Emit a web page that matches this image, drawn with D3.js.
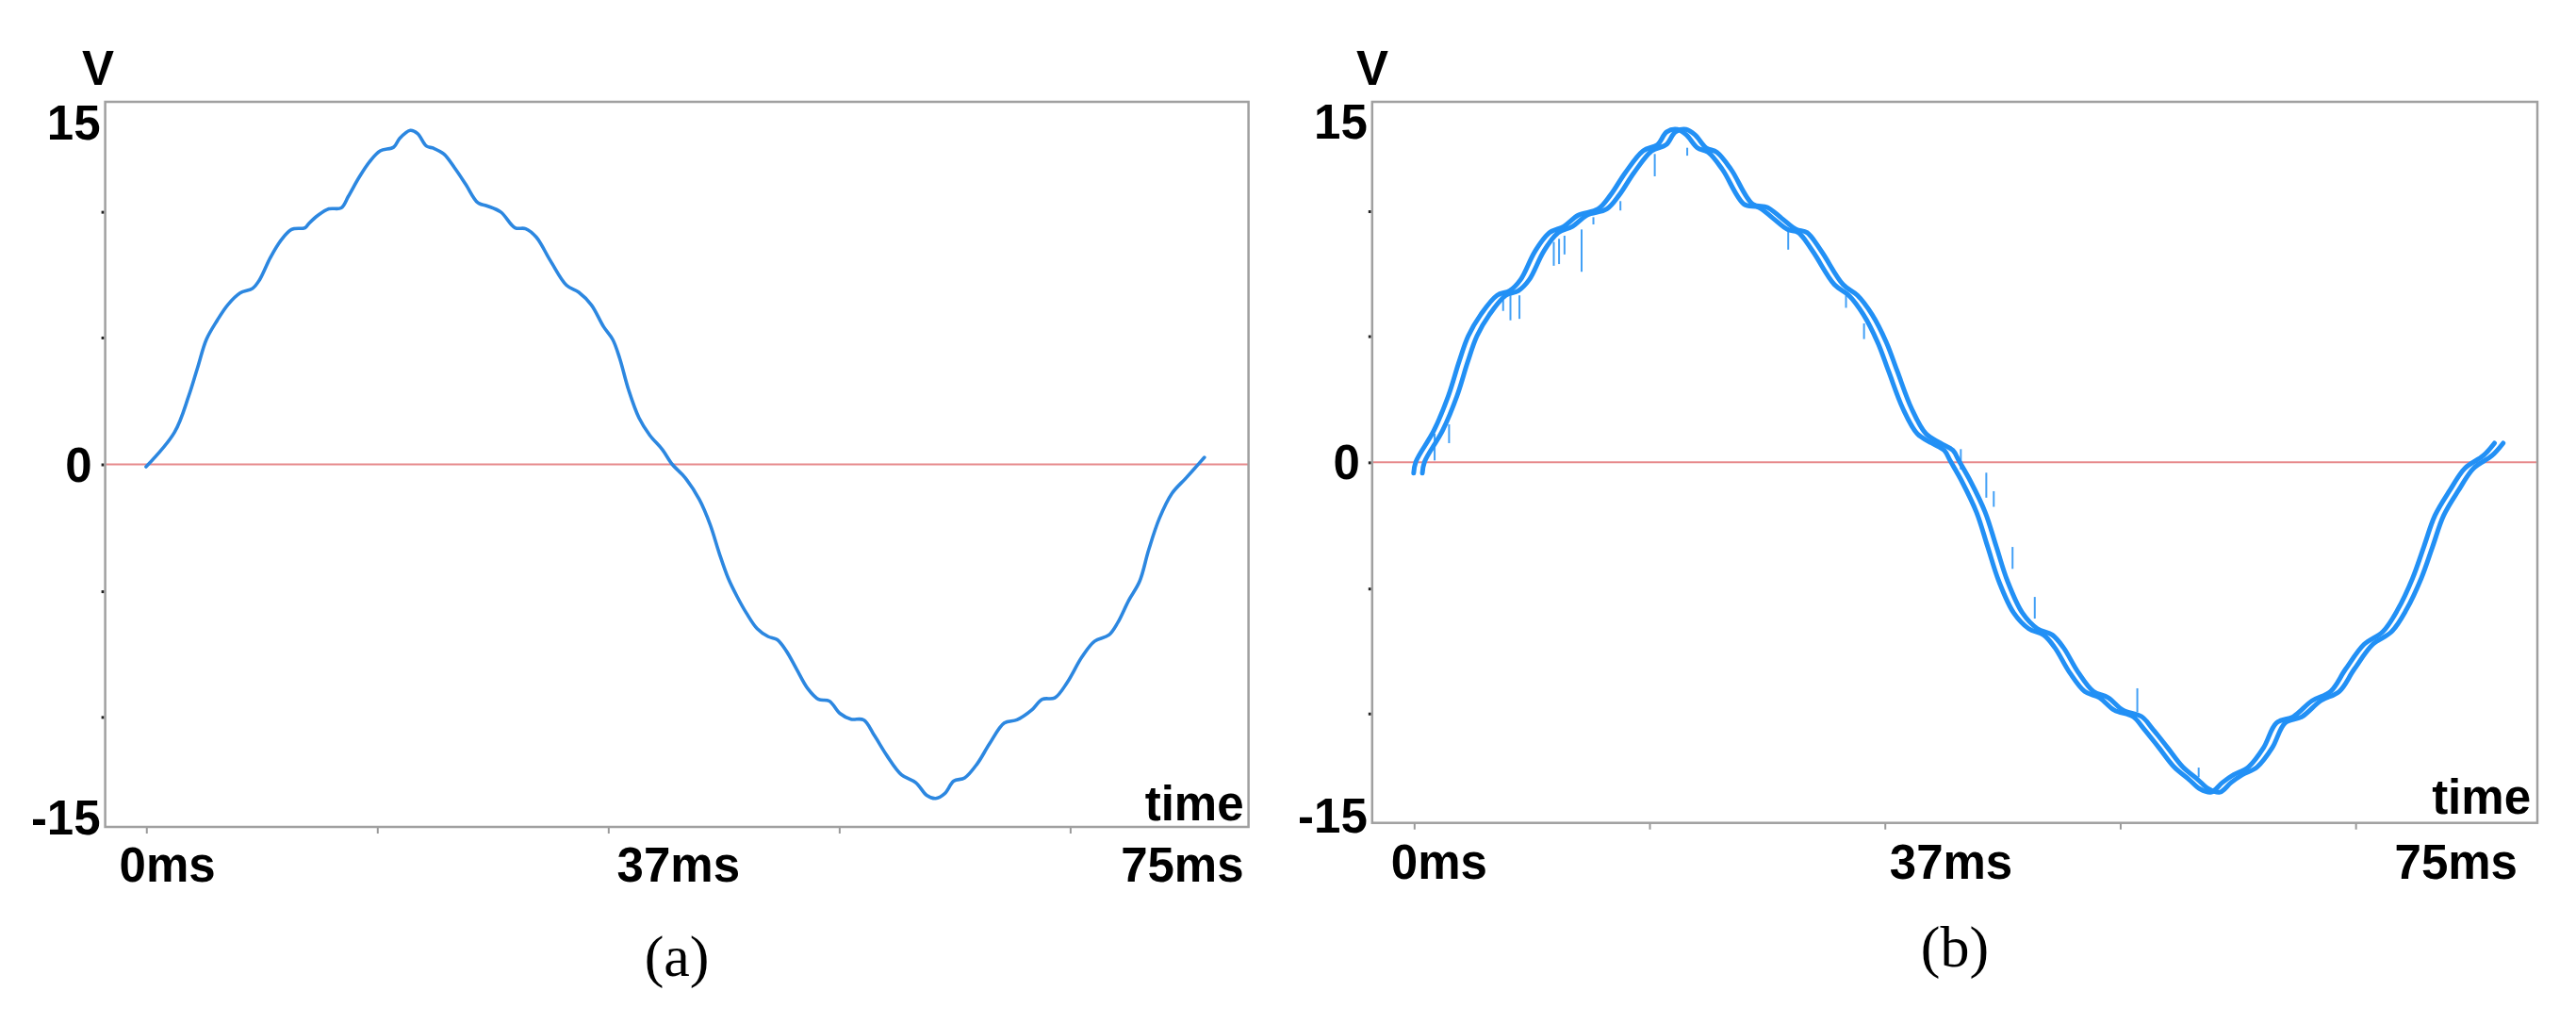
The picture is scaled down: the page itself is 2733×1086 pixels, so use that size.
<!DOCTYPE html>
<html>
<head>
<meta charset="utf-8">
<script src="https://cdn.jsdelivr.net/npm/d3@7/dist/d3.min.js"></script>
<style>
  html, body { margin: 0; padding: 0; background: #ffffff; }
  svg { display: block; }
</style>
</head>
<body>
<svg id="chart" width="2733" height="1086"></svg>
<script>
// ---------------- DATA ----------------
// Panel (a): single clean trace (time in ms, voltage in V)
const timeA = [2.68, 4.55, 5.48, 6.06, 6.64, 7.34, 8.04, 8.85, 9.67, 10.13, 10.83, 11.53, 12.22, 13.11, 13.38, 13.97, 14.67, 15.48, 15.95, 16.65, 17.34, 18.04, 18.93, 19.32, 20.02, 20.49, 21.07, 21.54, 22.22, 22.93, 23.63, 24.44, 25.02, 25.95, 26.88, 27.58, 28.28, 29.21, 30.26, 31.07, 31.89, 32.70, 33.29, 33.75, 34.33, 35.02, 35.73, 36.54, 37.2, 38.04, 38.98, 39.69, 40.28, 40.87, 41.47, 42.06, 42.77, 43.48, 44.07, 44.67, 45.37, 46.08, 46.79, 47.50, 48.21, 48.92, 49.75, 50.46, 51.29, 52.23, 53.18, 53.89, 54.48, 55.07, 55.67, 56.38, 57.20, 58.03, 58.98, 59.81, 60.75, 61.47, 62.29, 63.12, 64.07, 64.90, 65.84, 66.43, 67.14, 67.85, 68.45, 69.15, 69.98, 70.92, 72.11];
const voltA = [-0.1, 1.33, 2.83, 4.0, 5.17, 5.95, 6.6, 7.09, 7.28, 7.64, 8.55, 9.27, 9.72, 9.79, 9.98, 10.31, 10.57, 10.61, 11.09, 11.87, 12.52, 12.97, 13.13, 13.49, 13.82, 13.69, 13.17, 13.08, 12.84, 12.26, 11.61, 10.83, 10.70, 10.44, 9.79, 9.75, 9.40, 8.42, 7.41, 7.12, 6.60, 5.69, 5.17, 4.39, 3.09, 1.92, 1.20, 0.62, 0.0, -0.55, -1.46, -2.50, -3.67, -4.71, -5.49, -6.15, -6.80, -7.12, -7.25, -7.71, -8.49, -9.27, -9.72, -9.79, -10.31, -10.54, -10.57, -11.22, -12.06, -12.84, -13.17, -13.69, -13.82, -13.62, -13.10, -12.97, -12.39, -11.54, -10.70, -10.57, -10.18, -9.72, -9.66, -9.01, -7.97, -7.32, -7.06, -6.54, -5.63, -4.85, -3.54, -2.24, -1.20, -0.55, 0.29];

// Panel (b): overlaid sweeps (mean trace, plus the visible time spread of the sweeps)
const timeB = [2.95, 3.09, 4.25, 5.18, 5.88, 6.46, 7.28, 8.32, 9.13, 9.83, 10.76, 11.69, 12.62, 13.54, 14.82, 15.63, 16.57, 17.72, 18.65, 19.24, 19.93, 20.51, 21.21, 21.91, 22.83, 24.22, 25.16, 26.09, 27.01, 27.71, 28.64, 30.03, 30.96, 31.89, 32.82, 33.51, 34.44, 35.37, 36.30, 37.1, 37.5, 38.22, 39.18, 39.90, 40.62, 41.57, 42.54, 43.50, 44.21, 45.18, 46.14, 47.09, 48.05, 49.25, 49.97, 50.93, 51.89, 52.85, 53.57, 54.29, 55.01, 55.73, 56.69, 57.65, 58.49, 59.57, 60.77, 61.97, 62.93, 64.13, 65.33, 66.29, 67.25, 67.97, 68.69, 69.65, 70.61, 71.80, 72.52];
const voltB = [-0.45, 0.02, 1.32, 2.76, 4.20, 5.25, 6.16, 6.95, 7.14, 7.60, 8.78, 9.56, 9.82, 10.28, 10.54, 11.13, 12.05, 12.96, 13.22, 13.75, 13.85, 13.62, 13.09, 12.90, 12.18, 10.74, 10.61, 10.15, 9.69, 9.56, 8.78, 7.40, 6.95, 6.16, 4.99, 3.81, 2.24, 1.19, 0.80, 0.5, 0.05, -0.77, -2.08, -3.52, -4.95, -6.26, -6.92, -7.18, -7.70, -8.75, -9.53, -9.79, -10.31, -10.58, -11.10, -11.88, -12.67, -13.19, -13.59, -13.72, -13.32, -13.00, -12.67, -11.88, -10.84, -10.58, -9.92, -9.53, -8.61, -7.57, -7.05, -6.13, -4.82, -3.52, -2.21, -1.16, -0.25, 0.28, 0.80];
const sweepOffsetsMs = [-0.28, 0.28];

// Panel (b): glitch spikes [time ms, from V, to V]
const spikeTime = [8.43, 8.90, 9.48, 11.69, 12.03, 12.38, 13.48, 14.24, 15.98, 18.19, 20.28, 26.78, 30.50, 31.66, 4.02, 4.95, 37.89, 39.53, 40.01, 41.22, 42.65, 49.25, 53.2];
const spikeFrom = [6.82, 6.95, 6.95, 9.17, 9.30, 9.43, 9.69, 10.2, 10.87, 12.83, 13.09, 9.69, 6.95, 5.78, 1.19, 1.58, 0.55, -0.43, -1.2, -3.52, -5.6, -9.4, -12.7];
const spikeTo = [6.3, 5.91, 5.97, 8.18, 8.25, 8.65, 7.93, 9.9, 10.48, 11.9, 12.76, 8.85, 6.43, 5.13, 0.08, 0.80, -0.3, -1.47, -1.85, -4.43, -6.5, -10.4, -13.1];

// Axes
const xDomainMs = [0, 75];
const yDomainV = [-15, 15];
const xTickMs = [2.7, 17.85, 33.0, 48.15, 63.3];
const yTickV = [-10.45, -5.25, 0, 5.25, 10.45];
const yTickLabels = ["15", "0", "-15"];
const xTickLabels = ["0ms", "37ms", "75ms"];
const yTitle = "V";
const xTitle = "time";
const captions = ["(a)", "(b)"];

// ---------------- LAYOUT ----------------
const panels = [
  { l: 111.6, t: 108, r: 1324.6, b: 877, vx: 104, y15: 148, yM15: 885, zeroR: 14,
    xlBase: 935, x0Off: 15, x37Off: 543, x75Off: 5, timeOff: 5, timeBase: 870, capBase: 1035,
    color: "#2c87e0" },
  { l: 1455.8, t: 108, r: 2692, b: 872.7, vx: 1456, y15: 147, yM15: 883, zeroR: 13,
    xlBase: 932, x0Off: 20, x37Off: 549, x75Off: 21, timeOff: 7, timeBase: 863, capBase: 1025,
    color: "#2290f5" }
];

const svg = d3.select("#chart");
const labelFont = "'Liberation Sans', Arial, sans-serif";
const labelSize = 51;

panels.forEach((p, i) => {
  const x = d3.scaleLinear().domain(xDomainMs).range([p.l, p.r]);
  const y = d3.scaleLinear().domain(yDomainV).range([p.b, p.t]);
  const g = svg.append("g");

  // ticks
  const xa = g.append("g").attr("transform", `translate(0,${p.b})`)
    .call(d3.axisBottom(x).tickValues(xTickMs).tickSize(7).tickFormat(""));
  xa.select(".domain").remove();
  xa.selectAll(".tick line").attr("stroke", "#9a9a9a").attr("stroke-width", 2);

  const ya = g.append("g").attr("transform", `translate(${p.l - 1},0)`)
    .call(d3.axisLeft(y).tickValues(yTickV).tickSize(3).tickFormat(""));
  ya.select(".domain").remove();
  ya.selectAll(".tick line").attr("stroke", "#222").attr("stroke-width", 3);

  // zero line
  g.append("line")
    .attr("x1", x(xDomainMs[0])).attr("x2", x(xDomainMs[1]))
    .attr("y1", y(0)).attr("y2", y(0))
    .attr("stroke", "#e78a8c").attr("stroke-width", 2);

  // frame
  g.append("rect")
    .attr("x", p.l).attr("y", p.t)
    .attr("width", p.r - p.l).attr("height", p.b - p.t)
    .attr("fill", "none").attr("stroke", "#a0a0a0").attr("stroke-width", 2.5);

  const line = d3.line()
    .x(d => x(d[0])).y(d => y(d[1]))
    .curve(d3.curveCatmullRom.alpha(0.5));

  if (i === 0) {
    const pts = timeA.map((t, k) => [t, voltA[k]]);
    g.append("path").datum(pts)
      .attr("d", line).attr("fill", "none")
      .attr("stroke", p.color).attr("stroke-width", 3.6)
      .attr("stroke-linejoin", "round").attr("stroke-linecap", "round");
  } else {
    sweepOffsetsMs.forEach(off => {
      const pts = timeB.map((t, k) => [t + off, voltB[k]]);
      g.append("path").datum(pts)
        .attr("d", line).attr("fill", "none")
        .attr("stroke", p.color).attr("stroke-width", 5)
        .attr("stroke-linejoin", "round").attr("stroke-linecap", "round");
    });
    g.selectAll(".spike").data(spikeTime).enter().append("line")
      .attr("class", "spike")
      .attr("x1", d => x(d)).attr("x2", d => x(d))
      .attr("y1", (d, k) => y(spikeFrom[k])).attr("y2", (d, k) => y(spikeTo[k]))
      .attr("stroke", p.color).attr("stroke-width", 2).attr("opacity", 0.85);
  }

  // text
  const txt = (s, xx, yy, anchor, size, family, weight) =>
    g.append("text").text(s).attr("x", xx).attr("y", yy)
      .attr("text-anchor", anchor).attr("font-family", family || labelFont)
      .attr("font-size", size || labelSize).attr("font-weight", weight || 700).attr("fill", "#000");

  txt(yTitle, p.vx, 90, "middle");
  txt(yTickLabels[0], p.l - 5, p.y15, "end");
  txt(yTickLabels[1], p.l - p.zeroR, y(0) + 18, "end");
  txt(yTickLabels[2], p.l - 5, p.yM15, "end");
  txt(xTickLabels[0], p.l + p.x0Off, p.xlBase, "start");
  txt(xTickLabels[1], p.l + p.x37Off, p.xlBase, "start");
  txt(xTickLabels[2], p.r - p.x75Off, p.xlBase, "end");
  txt(xTitle, p.r - p.timeOff, p.timeBase, "end");
  txt(captions[i], (p.l + p.r) / 2, p.capBase, "middle", 62, "'Liberation Serif', 'Times New Roman', serif", 400);
});
</script>
</body>
</html>
